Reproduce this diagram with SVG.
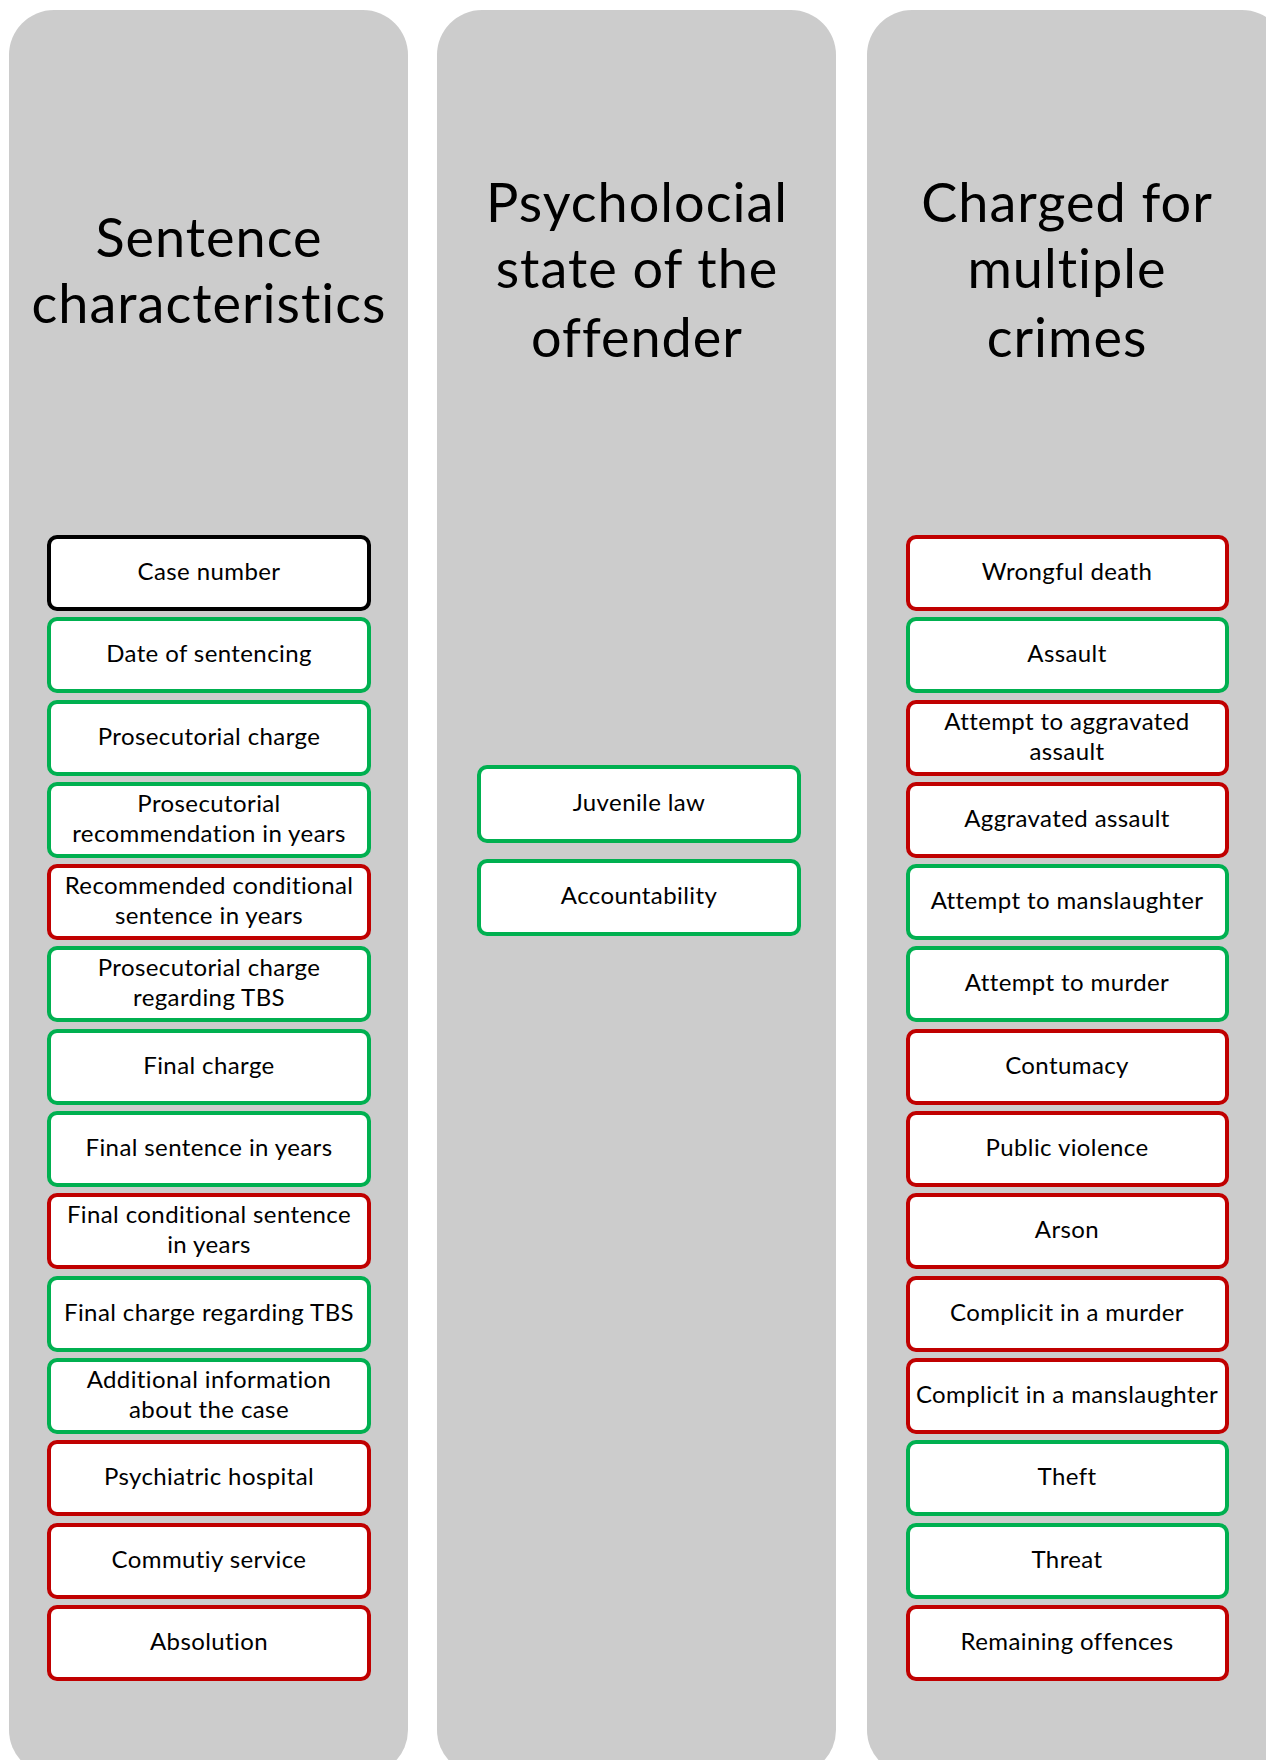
<svg xmlns="http://www.w3.org/2000/svg" width="1266" height="1760" viewBox="0 0 1266 1760">
<style>
.panel{fill:#cccccc}
.title{font-family:Lato,"Open Sans",sans-serif;font-size:54px;letter-spacing:1px;fill:#000;text-anchor:middle}
.box{fill:#fff;stroke-width:4}
.g{stroke:#00b050}
.r{stroke:#c00000}
.k{stroke:#000}
.lbl{font-family:Lato,"Open Sans",sans-serif;font-size:24px;letter-spacing:0.4px;fill:#000;text-anchor:middle}
</style>
<rect width="1266" height="1760" fill="#fff"/>
<g id="panel-sentence">
<rect class="panel" x="9" y="10" width="399" height="1765" rx="45"/>
<text class="title" x="209" y="257">Sentence</text>
<text class="title" x="209" y="323">characteristics</text>
</g>
<g id="panel-psych">
<rect class="panel" x="437" y="10" width="399" height="1765" rx="45"/>
<text class="title" x="637" y="222">Psycholocial</text>
<text class="title" x="637" y="288">state of the</text>
<text class="title" x="637" y="357">offender</text>
</g>
<g id="panel-crimes">
<rect class="panel" x="867" y="10" width="420" height="1765" rx="45"/>
<text class="title" x="1067" y="222">Charged for</text>
<text class="title" x="1067" y="288">multiple</text>
<text class="title" x="1067" y="357">crimes</text>
</g>
<g id="connectors"></g>
<g id="s1"><rect class="box k" x="49" y="537" width="320" height="72" rx="8"/><text class="lbl" x="209" y="580">Case number</text></g>
<g id="s2"><rect class="box g" x="49" y="619" width="320" height="72" rx="8"/><text class="lbl" x="209" y="662">Date of sentencing</text></g>
<g id="s3"><rect class="box g" x="49" y="702" width="320" height="72" rx="8"/><text class="lbl" x="209" y="745">Prosecutorial charge</text></g>
<g id="s4"><rect class="box g" x="49" y="784" width="320" height="72" rx="8"/><text class="lbl" x="209" y="812">Prosecutorial</text><text class="lbl" x="209" y="842">recommendation in years</text></g>
<g id="s5"><rect class="box r" x="49" y="866" width="320" height="72" rx="8"/><text class="lbl" x="209" y="894">Recommended conditional</text><text class="lbl" x="209" y="924">sentence in years</text></g>
<g id="s6"><rect class="box g" x="49" y="948" width="320" height="72" rx="8"/><text class="lbl" x="209" y="976">Prosecutorial charge</text><text class="lbl" x="209" y="1006">regarding TBS</text></g>
<g id="s7"><rect class="box g" x="49" y="1031" width="320" height="72" rx="8"/><text class="lbl" x="209" y="1074">Final charge</text></g>
<g id="s8"><rect class="box g" x="49" y="1113" width="320" height="72" rx="8"/><text class="lbl" x="209" y="1156">Final sentence in years</text></g>
<g id="s9"><rect class="box r" x="49" y="1195" width="320" height="72" rx="8"/><text class="lbl" x="209" y="1223">Final conditional sentence</text><text class="lbl" x="209" y="1253">in years</text></g>
<g id="s10"><rect class="box g" x="49" y="1278" width="320" height="72" rx="8"/><text class="lbl" x="209" y="1321">Final charge regarding TBS</text></g>
<g id="s11"><rect class="box g" x="49" y="1360" width="320" height="72" rx="8"/><text class="lbl" x="209" y="1388">Additional information</text><text class="lbl" x="209" y="1418">about the case</text></g>
<g id="s12"><rect class="box r" x="49" y="1442" width="320" height="72" rx="8"/><text class="lbl" x="209" y="1485">Psychiatric hospital</text></g>
<g id="s13"><rect class="box r" x="49" y="1525" width="320" height="72" rx="8"/><text class="lbl" x="209" y="1568">Commutiy service</text></g>
<g id="s14"><rect class="box r" x="49" y="1607" width="320" height="72" rx="8"/><text class="lbl" x="209" y="1650">Absolution</text></g>
<g id="p1"><rect class="box g" x="479" y="767" width="320" height="74" rx="8"/><text class="lbl" x="639" y="811">Juvenile law</text></g>
<g id="p2"><rect class="box g" x="479" y="861" width="320" height="73" rx="8"/><text class="lbl" x="639" y="904">Accountability</text></g>
<g id="c1"><rect class="box r" x="908" y="537" width="319" height="72" rx="8"/><text class="lbl" x="1067" y="580">Wrongful death</text></g>
<g id="c2"><rect class="box g" x="908" y="619" width="319" height="72" rx="8"/><text class="lbl" x="1067" y="662">Assault</text></g>
<g id="c3"><rect class="box r" x="908" y="702" width="319" height="72" rx="8"/><text class="lbl" x="1067" y="730">Attempt to aggravated</text><text class="lbl" x="1067" y="760">assault</text></g>
<g id="c4"><rect class="box r" x="908" y="784" width="319" height="72" rx="8"/><text class="lbl" x="1067" y="827">Aggravated assault</text></g>
<g id="c5"><rect class="box g" x="908" y="866" width="319" height="72" rx="8"/><text class="lbl" x="1067" y="909">Attempt to manslaughter</text></g>
<g id="c6"><rect class="box g" x="908" y="948" width="319" height="72" rx="8"/><text class="lbl" x="1067" y="991">Attempt to murder</text></g>
<g id="c7"><rect class="box r" x="908" y="1031" width="319" height="72" rx="8"/><text class="lbl" x="1067" y="1074">Contumacy</text></g>
<g id="c8"><rect class="box r" x="908" y="1113" width="319" height="72" rx="8"/><text class="lbl" x="1067" y="1156">Public violence</text></g>
<g id="c9"><rect class="box r" x="908" y="1195" width="319" height="72" rx="8"/><text class="lbl" x="1067" y="1238">Arson</text></g>
<g id="c10"><rect class="box r" x="908" y="1278" width="319" height="72" rx="8"/><text class="lbl" x="1067" y="1321">Complicit in a murder</text></g>
<g id="c11"><rect class="box r" x="908" y="1360" width="319" height="72" rx="8"/><text class="lbl" x="1067" y="1403">Complicit in a manslaughter</text></g>
<g id="c12"><rect class="box g" x="908" y="1442" width="319" height="72" rx="8"/><text class="lbl" x="1067" y="1485">Theft</text></g>
<g id="c13"><rect class="box g" x="908" y="1525" width="319" height="72" rx="8"/><text class="lbl" x="1067" y="1568">Threat</text></g>
<g id="c14"><rect class="box r" x="908" y="1607" width="319" height="72" rx="8"/><text class="lbl" x="1067" y="1650">Remaining offences</text></g>
</svg>
